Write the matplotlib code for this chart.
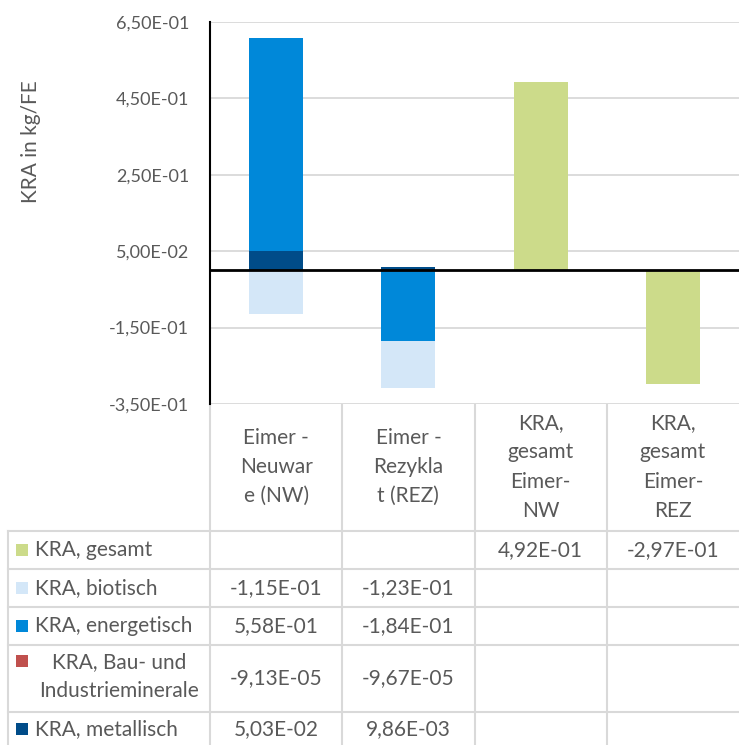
import numpy as np
import matplotlib.pyplot as plt

plt.rcParams['font.family'] = ['Lato', 'DejaVu Sans']

# data
categories = ['Eimer -\nNeuwar\ne (NW)', 'Eimer -\nRezykla\nt (REZ)',
              'KRA,\ngesamt\nEimer-\nNW', 'KRA,\ngesamt\nEimer-\nREZ']
series_names = ['KRA, gesamt', 'KRA, biotisch', 'KRA, energetisch',
                'KRA, Bau- und\nIndustrieminerale', 'KRA, metallisch']
gesamt = [np.nan, np.nan, 4.92e-01, -2.97e-01]
biotisch = [-1.15e-01, -1.23e-01, np.nan, np.nan]
energetisch = [5.58e-01, -1.84e-01, np.nan, np.nan]
bau_industrie = [-9.13e-05, -9.67e-05, np.nan, np.nan]
metallisch = [5.03e-02, 9.86e-03, np.nan, np.nan]
yticks = [-0.35, -0.15, 0.05, 0.25, 0.45, 0.65]

colors = ['#CCDB8A', '#D4E7F8', '#0088D9', '#C0504D', '#004C89']
all_series = [gesamt, biotisch, energetisch, bau_industrie, metallisch]

txt = '#595959'
grid = '#D9D9D9'
fs_tick = 13
fs_tab = 15

W, H = 739, 745
fig = plt.figure(figsize=(W / 100, H / 100), dpi=100)

# chart area (pixel box 210..739 x 22..404)
left, right, top, bottom = 210, 739, 22, 404
ax = fig.add_axes([left / W, 1 - bottom / H, (right - left) / W, (bottom - top) / H])

x = np.arange(len(categories))
pos = np.zeros(len(categories))
neg = np.zeros(len(categories))
# stacked from last series to first, positives up and negatives down
for vals, col in zip(all_series[::-1], colors[::-1]):
    v = np.nan_to_num(np.array(vals, dtype=float))
    base = np.where(v >= 0, pos, neg)
    ax.bar(x, v, bottom=base, width=0.41, color=col, zorder=3)
    pos = np.where(v >= 0, pos + v, pos)
    neg = np.where(v < 0, neg + v, neg)

ax.set_xlim(-0.5, len(categories) - 0.5)
ax.set_ylim(yticks[0], yticks[-1])
ax.set_yticks(yticks)
ax.set_yticklabels([f'{t:.2E}'.replace('.', ',') for t in yticks], color=txt, fontsize=fs_tick)
ax.tick_params(axis='y', length=0, pad=15)
ax.set_xticks([])
ax.grid(axis='y', color=grid, lw=1.3, zorder=0)
ax.axhline(0, color='black', lw=2, zorder=4)
for s in ['top', 'right', 'bottom']:
    ax.spines[s].set_visible(False)
ax.spines['left'].set_color('black')
ax.spines['left'].set_linewidth(1.5)
ax.spines['left'].set_zorder(5)
fig.text(31 / W, 1 - 142 / H, 'KRA in kg/FE', rotation=90, ha='center', va='center',
         color=txt, fontsize=15)

# data table below the chart, drawn in pixel coordinates
tab = fig.add_axes([0, 0, 1, 1], zorder=-1)
tab.set_xlim(0, W)
tab.set_ylim(H, 0)
tab.axis('off')

col_w = (right - left) / len(categories)
col_edges = [left + i * col_w for i in range(len(categories) + 1)]
row_edges = [531, 569, 607, 645, 712, 746]
legend_left = 8

for xe in col_edges[:-1]:
    tab.plot([xe, xe], [bottom, H], color=grid, lw=1.5)
tab.plot([legend_left, legend_left], [row_edges[0], H], color=grid, lw=1.5)
for ye in row_edges[:-1]:
    tab.plot([legend_left, W], [ye, ye], color=grid, lw=1.5)

for i, cat in enumerate(categories):
    tab.text(left + (i + 0.5) * col_w, 467, cat, ha='center', va='center',
             color=txt, fontsize=fs_tab, linespacing=1.57)

for r, (name, vals, col) in enumerate(zip(series_names, all_series, colors)):
    yc = (row_edges[r] + row_edges[r + 1]) / 2
    if '\n' in name:
        tab.add_patch(plt.Rectangle((16, 655), 12, 12, color=col, lw=0))
        tab.text(119, yc - 2, name, ha='center', va='center', color=txt,
                 fontsize=fs_tab, linespacing=1.55)
    else:
        tab.add_patch(plt.Rectangle((16, yc - 6), 12, 12, color=col, lw=0))
        tab.text(35, yc, name, ha='left', va='center', color=txt, fontsize=fs_tab)
    for i, v in enumerate(vals):
        if not np.isnan(v):
            tab.text(left + (i + 0.5) * col_w, yc, f'{v:.2E}'.replace('.', ','),
                     ha='center', va='center', color=txt, fontsize=fs_tab)

fig.savefig('out.png', dpi=100)
